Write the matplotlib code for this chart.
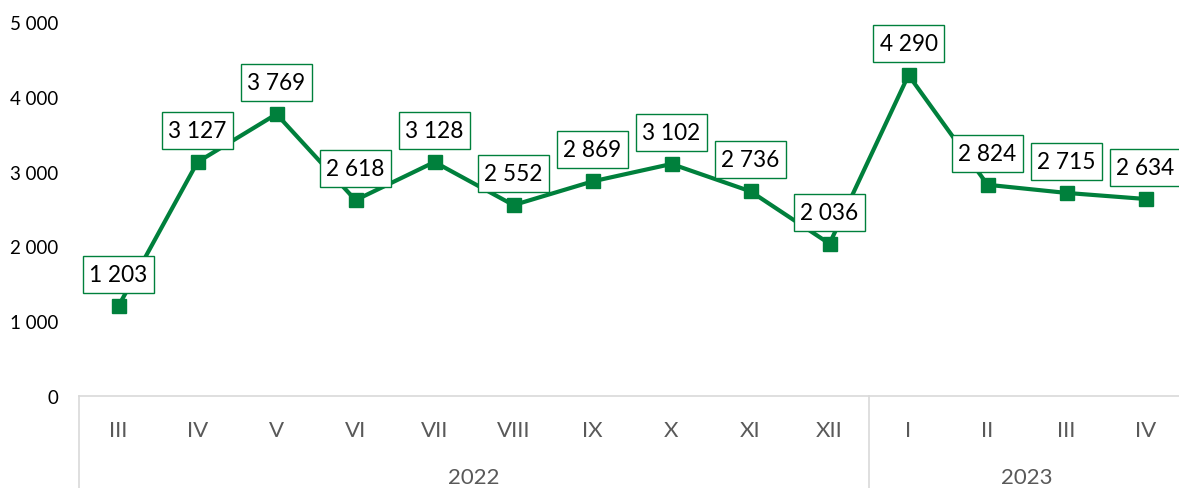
import matplotlib
matplotlib.use("Agg")
import matplotlib.pyplot as plt
import matplotlib.transforms as mtransforms
from matplotlib.patches import Rectangle

# data
months = ["III", "IV", "V", "VI", "VII", "VIII", "IX", "X", "XI", "XII", "I", "II", "III", "IV"]
values = [1203, 3127, 3769, 2618, 3128, 2552, 2869, 3102, 2736, 2036, 4290, 2824, 2715, 2634]
years = ["2022", "2023"]
year_counts = [10, 4]
y_ticks = [0, 1000, 2000, 3000, 4000, 5000]

green = "#00803C"
grey_txt = "#595959"
grey_line = "#D9D9D9"

plt.rcParams["font.family"] = ["Lato", "DejaVu Sans"]

W, H = 1179, 489
fig = plt.figure(figsize=(W / 100, H / 100), dpi=100)
# plot area: x 79..1179 px, y 23..397 px
ax = fig.add_axes([79 / W, (H - 397) / H, 1100 / W, 374 / H])

x = list(range(len(values)))
ax.plot(x, values, color=green, lw=3, marker="s", ms=9.5, zorder=3, clip_on=False)

def fmt(v):
    return f"{v:,}".replace(",", " ")

# data labels: fixed-size boxes (inches) centred a bit above each point
box_w, box_h, box_dy = 0.71, 0.37, 0.315
for xi, v in zip(x, values):
    t = fig.dpi_scale_trans + mtransforms.ScaledTranslation(xi, v, ax.transData)
    ax.add_patch(Rectangle((-box_w / 2, box_dy - box_h / 2), box_w, box_h, transform=t,
                           fc="white", ec=green, lw=1, zorder=4, clip_on=False))
    ax.text(0, box_dy, fmt(v), transform=t, ha="center", va="center",
            fontsize=16.3, color="black", zorder=5, clip_on=False)

ax.set_xlim(-0.5, -0.5 + 1100 / 79)
ax.set_ylim(0, 5000)
ax.set_yticks(y_ticks)
ax.set_yticklabels([fmt(t) for t in y_ticks], fontsize=13.5, color="black")
ax.tick_params(axis="y", length=0, pad=15)
ax.set_xticks([])

for s in ["top", "right", "left"]:
    ax.spines[s].set_visible(False)
ax.spines["bottom"].set_color(grey_line)
ax.spines["bottom"].set_linewidth(1.2)

# category labels and year groups below the axis
trans = mtransforms.blended_transform_factory(ax.transData, ax.transAxes)
for xi, m in zip(x, months):
    ax.text(xi, -34 / 374, m, transform=trans, ha="center", va="center",
            fontsize=16, color=grey_txt)

start = -0.5
bottom = -(H - 397) / 374
for yr, n in zip(years, year_counts):
    ax.plot([start, start], [0, bottom], transform=trans, color=grey_line,
            lw=1.2, clip_on=False)
    ax.text(start + n / 2, -81 / 374, yr, transform=trans, ha="center", va="center",
            fontsize=16, color=grey_txt)
    start += n

fig.savefig("out.png", dpi=100)
